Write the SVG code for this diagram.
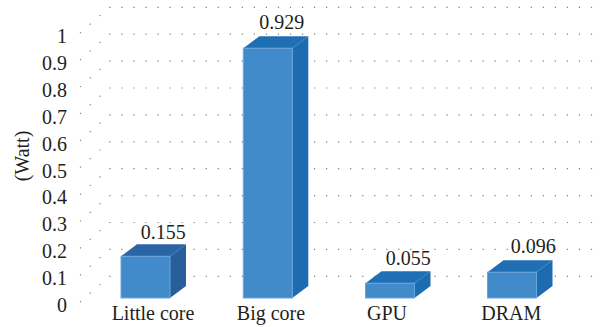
<svg xmlns="http://www.w3.org/2000/svg" width="606" height="327" viewBox="0 0 606 327">
  <style>
    .grid { stroke: #7f7f7f; stroke-width: 1.2; fill: none; stroke-dasharray: 1.2 10.84; }
    .side-grid { stroke: #7f7f7f; stroke-width: 1.2; fill: none; stroke-dasharray: 1.2 11.8; }
    .txt { font-family: 'Liberation Serif', Tinos, 'DejaVu Serif', serif; font-size: 20px; fill: #231f20; }
    .tick { text-anchor: end; }
    .mid { text-anchor: middle; }
    .front { fill: #428bca; stroke: #6aa6dc; stroke-width: 1; }
    .top { fill: #1f6fb5; }
    .side { fill: #1d6cb1; }
    .top-alt { fill: #2a66a6; }
    .side-alt { fill: #285f9b; }
  </style>

  <!-- back wall gridlines, 0.0 to 1.0 -->
  <g id="back-grid">
    <line class="grid" x1="109.3" y1="7.3" x2="602" y2="7.3"/>
    <line class="grid" x1="109.3" y1="34.2" x2="602" y2="34.2"/>
    <line class="grid" x1="109.3" y1="61.1" x2="602" y2="61.1"/>
    <line class="grid" x1="109.3" y1="88.0" x2="602" y2="88.0"/>
    <line class="grid" x1="109.3" y1="114.9" x2="602" y2="114.9"/>
    <line class="grid" x1="109.3" y1="141.8" x2="602" y2="141.8"/>
    <line class="grid" x1="109.3" y1="168.7" x2="602" y2="168.7"/>
    <line class="grid" x1="109.3" y1="195.6" x2="602" y2="195.6"/>
    <line class="grid" x1="109.3" y1="222.5" x2="602" y2="222.5"/>
    <line class="grid" x1="109.3" y1="249.4" x2="602" y2="249.4"/>
    <line class="grid" x1="109.3" y1="276.3" x2="602" y2="276.3"/>
  </g>

  <!-- side wall gridlines running from the axis back to the wall -->
  <g id="side-grid">
    <line class="side-grid" x1="80" y1="33.1" x2="109.3" y2="7.3"/>
    <line class="side-grid" x1="80" y1="60.0" x2="109.3" y2="34.2"/>
    <line class="side-grid" x1="80" y1="86.9" x2="109.3" y2="61.1"/>
    <line class="side-grid" x1="80" y1="113.8" x2="109.3" y2="88.0"/>
    <line class="side-grid" x1="80" y1="140.7" x2="109.3" y2="114.9"/>
    <line class="side-grid" x1="80" y1="167.6" x2="109.3" y2="141.8"/>
    <line class="side-grid" x1="80" y1="194.5" x2="109.3" y2="168.7"/>
    <line class="side-grid" x1="80" y1="221.4" x2="109.3" y2="195.6"/>
    <line class="side-grid" x1="80" y1="248.3" x2="109.3" y2="222.5"/>
    <line class="side-grid" x1="80" y1="275.2" x2="109.3" y2="249.4"/>
    <line class="side-grid" x1="80" y1="302.1" x2="109.3" y2="276.3"/>
  </g>

  <!-- value axis -->
  <g id="axis-labels" class="txt tick">
    <text x="67" y="43">1</text>
    <text x="67" y="70">0.9</text>
    <text x="67" y="97">0.8</text>
    <text x="67" y="124">0.7</text>
    <text x="67" y="151">0.6</text>
    <text x="67" y="178">0.5</text>
    <text x="67" y="204">0.4</text>
    <text x="67" y="231">0.3</text>
    <text x="67" y="258">0.2</text>
    <text x="67" y="285">0.1</text>
    <text x="67" y="312">0</text>
  </g>
  <text id="axis-title" class="txt mid" transform="translate(29 156) rotate(-90)">(Watt)</text>

  <!-- bars -->
  <g id="bar-little-core">
    <polygon class="top-alt" points="121,256.3 137,244.3 186,244.3 170,256.3"/>
    <polygon class="side-alt" points="170,256.3 186,244.3 186,286 170,298"/>
    <rect class="front" x="121" y="256.3" width="49" height="41.7"/>
    <text class="txt mid" x="163.3" y="239">0.155</text>
    <text class="txt mid" x="153" y="320">Little core</text>
  </g>

  <g id="bar-big-core">
    <polygon class="top" points="243.3,48.2 259.3,36.2 308.3,36.2 292.3,48.2"/>
    <polygon class="side" points="292.3,48.2 308.3,36.2 308.3,286 292.3,298"/>
    <rect class="front" x="243.3" y="48.2" width="49" height="249.8"/>
    <text class="txt mid" x="281.7" y="29">0.929</text>
    <text class="txt mid" x="271" y="320">Big core</text>
  </g>

  <g id="bar-gpu">
    <polygon class="top" points="365.5,283.2 381.5,271.2 430.5,271.2 414.5,283.2"/>
    <polygon class="side" points="414.5,283.2 430.5,271.2 430.5,286 414.5,298"/>
    <rect class="front" x="365.5" y="283.2" width="49" height="14.8"/>
    <text class="txt mid" x="408.3" y="265">0.055</text>
    <text class="txt mid" x="387" y="320">GPU</text>
  </g>

  <g id="bar-dram">
    <polygon class="top" points="487.5,272.2 503.5,260.2 552.5,260.2 536.5,272.2"/>
    <polygon class="side" points="536.5,272.2 552.5,260.2 552.5,286 536.5,298"/>
    <rect class="front" x="487.5" y="272.2" width="49" height="25.8"/>
    <text class="txt mid" x="533.3" y="253.3">0.096</text>
    <text class="txt mid" x="511.3" y="320">DRAM</text>
  </g>
</svg>
